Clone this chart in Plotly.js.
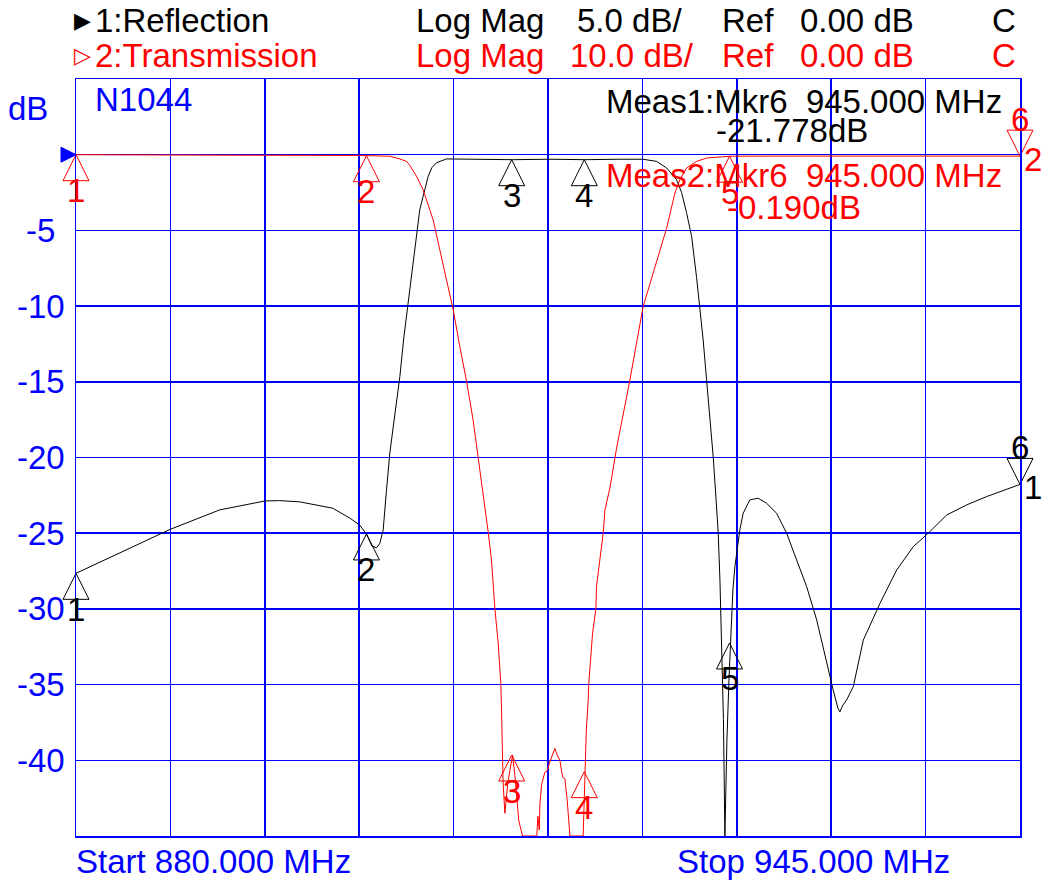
<!DOCTYPE html>
<html>
<head>
<meta charset="utf-8">
<script src="https://cdn.plot.ly/plotly-3.0.1.min.js"></script>
<style>html,body{margin:0;padding:0;background:#fff;}</style>
</head>
<body>
<div id="chart" style="width:1045px;height:881px;"></div>
<script>
// ---- Channel 1: Reflection (dB, 5 dB/div) ----
const reflFreq = [880.00, 883.01, 886.50, 889.90, 893.02, 894.03, 895.41, 897.68, 898.85, 899.52,
  900.00, 900.37, 900.69, 900.92, 901.15, 901.38, 901.61, 901.95, 902.30, 902.57,
  902.87, 903.16, 903.45, 903.67, 903.90, 904.25, 904.50, 904.82, 905.51, 907.81,
  910.06, 912.63, 915.04, 917.45, 919.03, 919.98, 920.67, 921.35, 921.70, 922.04,
  922.39, 922.73, 922.96, 923.19, 923.42, 923.65, 923.88, 924.06, 924.22, 924.34,
  924.45, 924.58, 924.68, 924.82, 924.96, 925.07, 925.23, 925.37, 925.71, 925.94,
  926.40, 926.97, 927.55, 928.24, 928.93, 929.62, 930.31, 931.00, 931.69, 932.14,
  932.46, 932.60, 932.81, 933.06, 933.52, 934.21, 935.36, 936.51, 937.65, 938.68,
  939.95, 941.33, 942.71, 944.08, 945.00];
const reflDb = [-27.65, -26.3, -24.74, -23.46, -22.87, -22.85, -22.93, -23.35, -24.0, -24.45,
  -25.05, -25.84, -25.97, -25.67, -24.79, -22.14, -19.7, -17.2, -14.65, -12.1,
  -9.78, -7.27, -4.96, -3.64, -2.76, -1.43, -0.86, -0.53, -0.28, -0.3,
  -0.33, -0.3, -0.33, -0.3, -0.3, -0.44, -0.88, -1.65, -2.5, -3.83,
  -5.4, -8.1, -10.03, -12.3, -14.87, -17.3, -20.0, -22.6, -24.98, -28.1,
  -31.6, -37.3, -45, -38.7, -34.7, -32.25, -28.75, -27.2, -24.78, -23.68,
  -22.8, -22.69, -23.02, -23.68, -25.0, -26.77, -28.53, -30.73, -33.6, -35.36,
  -36.55, -36.8, -36.35, -36.02, -35.14, -32.06, -29.63, -27.43, -25.89, -25.0,
  -23.8, -23.13, -22.58, -22.1, -21.778];

// ---- Channel 2: Transmission (dB, 10 dB/div) ----
const transFreq = [880.00, 883.01, 886.50, 893.02, 899.52, 900.00, 900.92, 901.61, 902.30, 902.76,
  902.98, 903.45, 903.90, 904.59, 905.05, 905.51, 905.97, 906.43, 906.89, 907.34,
  907.69, 907.99, 908.38, 908.61, 908.84, 909.07, 909.25, 909.30, 909.36, 909.41,
  909.53, 909.73, 910.06, 910.22, 910.49, 910.75, 911.66, 911.73, 911.80, 911.90,
  911.94, 912.06, 912.28, 912.44, 912.63, 912.81, 912.97, 913.13, 913.32, 913.50,
  913.66, 913.82, 913.96, 914.01, 914.92, 914.99, 915.04, 915.14, 915.27, 915.31,
  915.57, 915.80, 915.84, 916.02, 916.30, 916.42, 916.76, 917.22, 918.14, 919.05,
  919.86, 920.67, 921.24, 921.58, 922.04, 922.73, 923.42, 925.03, 929.85, 936.73,
  945.00];
const transDb = [0.0, -0.04, -0.06, -0.08, -0.10, -0.14, -0.2, -0.2, -0.56, -0.88,
  -1.4, -2.86, -4.62, -8.6, -12.56, -16.52, -20.48, -25.34, -29.9, -35.0,
  -39.88, -43.8, -49.8, -53.54, -59.92, -64.54, -69.8, -73.4, -80, -83,
  -87, -83, -79.3, -82, -88, -90, -90, -90, -87.4, -89.2,
  -85.8, -83.2, -81.6, -81.4, -80.2, -79.1, -78.44, -79.3, -80.0, -82.2,
  -82.4, -85.2, -88.2, -90, -90, -86, -81.5, -76, -72, -69.8,
  -63.2, -59.92, -57, -54, -50, -46.92, -44.06, -38.78, -29.74, -20.06,
  -14.76, -9.7, -5.06, -3.3, -1.76, -0.88, -0.44, -0.2, -0.18, -0.18,
  -0.19];

// ---- Markers ----
const markerFreq = [880, 900, 910, 915, 925, 945];
const markerLabels = ['1', '2', '3', '4', '5', '6'];
const reflMarkerDb = [-27.65, -25.05, -0.33, -0.33, -32.25, -21.778];
const transMarkerDb = [0.0, -0.14, -79.3, -81.5, -0.2, -0.19];
const activeMarker = 5; // index of marker 6 (drawn pointing down)

// ---- Axis / header text ----
const yTickVals = [-5, -10, -15, -20, -25, -30, -35, -40];
const startLabel = 'Start 880.000 MHz';
const stopLabel = 'Stop 945.000 MHz';
const ch1Header = ['1:Reflection', 'Log Mag', '5.0 dB/', 'Ref', '0.00 dB', 'C'];
const ch2Header = ['2:Transmission', 'Log Mag', '10.0 dB/', 'Ref', '0.00 dB', 'C'];
const meas1 = ['Meas1:Mkr6\u00a0\u00a0945.000 MHz', '-21.778dB'];
const meas2 = ['Meas2:Mkr6\u00a0\u00a0945.000 MHz', '-0.190dB'];
const instrument = 'N1044';

// ---- Geometry ----
const W = 1045, H = 881, L = 76, R = 1020, T = 79, B = 836;
const px = x => (x - L) / (R - L);
const py = y => (B - y) / (B - T);
const FONT = '"Liberation Sans", Arial, Helvetica, sans-serif';
const FS = 33;
const BLUE = '#0000ff', RED = '#ff0000', BLACK = '#000000';

const symbols = markerFreq.map((f, i) => i === activeMarker ? 'arrow-down-open' : 'arrow-up-open');

const traces = [
  {x: transFreq, y: transDb, yaxis: 'y2', mode: 'lines', line: {color: RED, width: 1}, hoverinfo: 'skip'},
  {x: reflFreq, y: reflDb, mode: 'lines', line: {color: BLACK, width: 1}, hoverinfo: 'skip'},
  {x: markerFreq, y: transMarkerDb, yaxis: 'y2', mode: 'markers', cliponaxis: false,
   marker: {symbol: symbols, size: 26, color: RED, line: {color: RED, width: 1}}, hoverinfo: 'skip'},
  {x: markerFreq, y: reflMarkerDb, mode: 'markers', cliponaxis: false,
   marker: {symbol: symbols, size: 26, color: BLACK, line: {color: BLACK, width: 1}}, hoverinfo: 'skip'},
  {x: [markerFreq[0]], y: [0], mode: 'markers', cliponaxis: false,
   marker: {symbol: 'arrow-right', size: 15, color: BLUE, line: {color: BLUE, width: 1}}, hoverinfo: 'skip'}
];

const ann = [];
function txt(text, x, y, color, anchor, size) {
  ann.push({text: text, xref: 'paper', yref: 'paper', x: px(x), y: py(y), xanchor: anchor || 'left',
    yanchor: 'middle', showarrow: false, font: {family: FONT, size: size || FS, color: color}, borderpad: 0});
}
// header rows
const headerX = [94, 415, 0, 721, 799, 991];
const row1X = headerX.slice(); row1X[2] = 576;
const row2X = headerX.slice(); row2X[2] = 569;
ch1Header.forEach((t, i) => txt(t, row1X[i], 20, BLACK));
ch2Header.forEach((t, i) => txt(t, row2X[i], 56, RED));
txt('\u25B6', 73, 20, BLACK, 'left', 22);
txt('\u25B7', 73, 56, RED, 'left', 22);
// in-plot texts
txt(instrument, 94, 100, BLUE);
txt(meas1[0], 605, 101, BLACK);
txt(meas1[1], 715, 131, BLACK);
txt(meas2[0], 605, 175, RED);
txt(meas2[1], 726, 208, RED);
txt('dB', 28, 108, BLUE, 'center');
txt(startLabel, 75, 861, BLUE);
txt(stopLabel, 676, 861, BLUE);
// y tick labels
yTickVals.forEach(v => ann.push({text: String(v), xref: 'paper', yref: 'y', x: px(40.5), y: v,
  xanchor: 'center', yanchor: 'middle', showarrow: false, font: {family: FONT, size: FS, color: BLUE}}));
// marker numbers
function markerText(freqs, vals, yref, color) {
  freqs.forEach((f, i) => {
    const down = i === activeMarker;
    ann.push({text: markerLabels[i], xref: 'x', yref: yref, x: f, y: vals[i], xanchor: 'center', yanchor: 'middle',
      yshift: down ? 37 : -36, showarrow: false, font: {family: FONT, size: FS, color: color}});
  });
  // channel number beside the active marker
  ann.push({text: yref === 'y' ? '1' : '2', xref: 'x', yref: yref, x: freqs[activeMarker], y: vals[activeMarker],
    xanchor: 'center', yanchor: 'middle', xshift: 13, yshift: -3, showarrow: false,
    font: {family: FONT, size: FS, color: color}});
}
markerText(markerFreq, reflMarkerDb, 'y', BLACK);
markerText(markerFreq, transMarkerDb, 'y2', RED);

const axisCommon = {showgrid: true, gridcolor: BLUE, gridwidth: 1.5, showline: true, mirror: true,
  linecolor: BLUE, linewidth: 1.5, showticklabels: false, ticks: '', zeroline: false, fixedrange: true};

const layout = {
  width: W, height: H,
  margin: {l: L, r: W - R, t: T, b: H - B, pad: 0},
  paper_bgcolor: '#ffffff', plot_bgcolor: '#ffffff',
  showlegend: false,
  xaxis: Object.assign({range: [880, 945], tick0: 880, dtick: 6.5}, axisCommon),
  yaxis: Object.assign({range: [-45, 5], tick0: 0, dtick: 5}, axisCommon),
  yaxis2: {range: [-90, 10], overlaying: 'y', visible: false, fixedrange: true},
  annotations: ann,
  font: {family: FONT}
};

Plotly.newPlot('chart', traces, layout, {staticPlot: true, displayModeBar: false});
</script>
</body>
</html>
